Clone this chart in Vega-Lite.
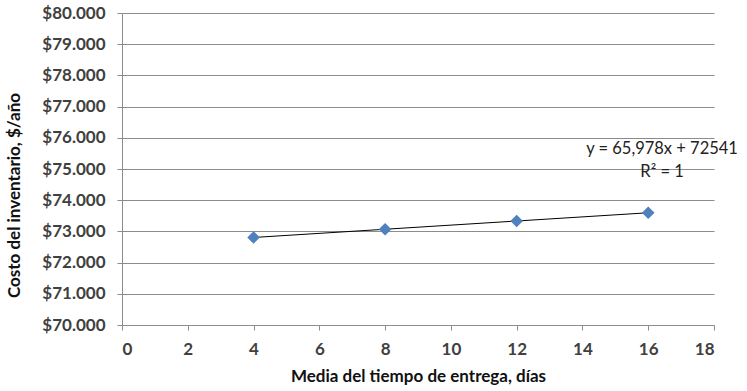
{
  "$schema": "https://vega.github.io/schema/vega-lite/v6.json",
  "width": 592,
  "height": 312,
  "autosize": {"type": "none"},
  "padding": {"left": 122, "top": 13, "right": 33, "bottom": 66},
  "background": "white",
  "config": {
    "view": {"stroke": null},
    "font": "Lato"
  },
  "datasets": {
    "points": [
      {"dias": 4, "costo": 72805},
      {"dias": 8, "costo": 73069},
      {"dias": 12, "costo": 73333},
      {"dias": 16, "costo": 73597}
    ],
    "notes": [
      {"dias": 16.42, "costo": 75640, "texto": "y = 65,978x + 72541"},
      {"dias": 16.42, "costo": 74900, "texto": "R² = 1"}
    ]
  },
  "encoding": {
    "x": {
      "field": "dias", "type": "quantitative",
      "scale": {"domain": [0, 18], "nice": false},
      "axis": {
        "values": [0, 2, 4, 6, 8, 10, 12, 14, 16, 18],
        "grid": false,
        "title": "Media del tiempo de entrega, días",
        "titlePadding": 11, "labelPadding": 11,
        "labelFont": "Lato", "labelFontWeight": "bold", "labelColor": "#404040", "labelFontSize": 17,
        "titleFont": "Lato", "titleFontWeight": "bold", "titleColor": "#111111", "titleFontSize": 17,
        "domainColor": "#8c8c8c", "tickColor": "#8c8c8c", "tickSize": 5
      }
    },
    "y": {
      "field": "costo", "type": "quantitative",
      "scale": {"domain": [70000, 80000], "nice": false, "zero": false},
      "axis": {
        "values": [70000, 71000, 72000, 73000, 74000, 75000, 76000, 77000, 78000, 79000, 80000],
        "grid": true,
        "labelOverlap": false,
        "title": "Costo del inventario, $/año",
        "titleX": -108,
        "titleY": 182,
        "titleAlign": "center",
        "titleBaseline": "middle",
        "labelPadding": 12,
        "labelExpr": "'$' + replace(format(datum.value, ',.0f'), ',', '.')",
        "labelFont": "Lato", "labelFontWeight": "bold", "labelColor": "#404040", "labelFontSize": 17,
        "titleFont": "Lato", "titleFontWeight": "bold", "titleColor": "#111111", "titleFontSize": 17,
        "domainColor": "#8c8c8c", "tickColor": "#8c8c8c", "gridColor": "#8c8c8c", "tickSize": 5
      }
    }
  },
  "layer": [
    {
      "data": {"name": "points"},
      "mark": {"type": "line", "color": "#000000", "strokeWidth": 1}
    },
    {
      "data": {"name": "points"},
      "mark": {"type": "point", "shape": "diamond", "filled": true, "size": 160, "color": "#4F81BD", "opacity": 1}
    },
    {
      "data": {"name": "notes"},
      "mark": {"type": "text", "font": "Lato", "fontSize": 16.5, "color": "#222222", "align": "center", "baseline": "middle"},
      "encoding": {
        "text": {"field": "texto"}
      }
    }
  ]
}
